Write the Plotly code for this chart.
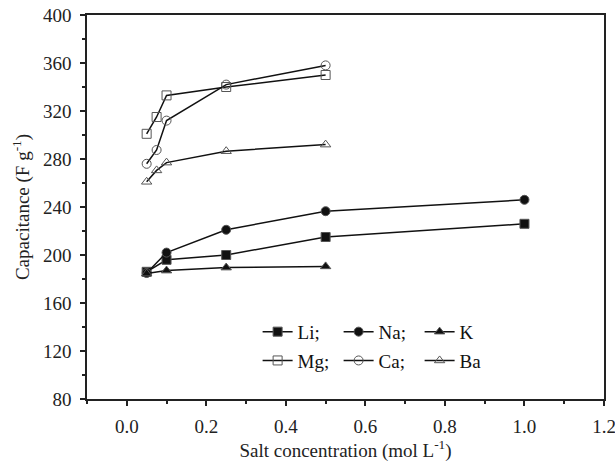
import plotly.graph_objects as go

x_li = [0.05, 0.1, 0.25, 0.5, 1.0]
li = [186, 196, 200, 215, 226]
x_na = [0.05, 0.1, 0.25, 0.5, 1.0]
na = [185, 202, 221, 236.5, 246]
x_k = [0.05, 0.1, 0.25, 0.5]
k = [184.5, 187, 189.5, 190.5]
x_alk = [0.05, 0.075, 0.1, 0.25, 0.5]
mg = [301, 315, 333, 340, 350]
ca = [276, 287.5, 312, 342, 358]
ba = [261, 270.5, 277, 286.5, 292]

series = [
    ("Li;", x_li, li, "square", "legend"),
    ("Na;", x_na, na, "circle", "legend"),
    ("K", x_k, k, "triangle-up", "legend"),
    ("Mg;", x_alk, mg, "square-open", "legend2"),
    ("Ca;", x_alk, ca, "circle-open", "legend2"),
    ("Ba", x_alk, ba, "triangle-up-open", "legend2"),
]

fig = go.Figure()
for name, xs, ys, sym, lg in series:
    fig.add_trace(go.Scatter(
        x=xs, y=ys, name=name, mode="lines+markers", legend=lg,
        line=dict(color="#111", width=1.5),
        marker=dict(symbol=sym, size=9, color="#111" if "open" not in sym else "#555",
                    line=dict(color="#555", width=1)),
    ))

font = "Liberation Serif"
leg_common = dict(orientation="h", x=0.33, xanchor="left", yanchor="middle",
                  bgcolor="rgba(0,0,0,0)", font=dict(size=19, family=font, color="#111"),
                  tracegroupgap=0, entrywidth=36, entrywidthmode="pixels")
fig.update_layout(
    width=615, height=464,
    margin=dict(l=87, r=11, t=15, b=65),
    plot_bgcolor="white", paper_bgcolor="white",
    font=dict(family=font, size=19, color="#222"),
    legend=dict(y=0.175, **leg_common),
    legend2=dict(y=0.100, **leg_common),
    showlegend=True,
)
fig.update_xaxes(
    range=[-0.1, 1.2], dtick=0.2, tick0=0, tickformat=".1f", automargin=False,
    ticklabeloverflow="allow",
    showline=True, linecolor="#222", linewidth=1.5, mirror=True,
    ticks="outside", ticklen=5, tickwidth=1.5, tickcolor="#222", ticklabelstandoff=4,
    minor=dict(dtick=0.1, tick0=0, ticks="outside", ticklen=3, tickwidth=1.5, tickcolor="#222"),
    showgrid=False, zeroline=False,
    title=dict(text="Salt concentration (mol L<sup>-1</sup>)", font=dict(size=19), standoff=4),
)
fig.update_yaxes(
    range=[80, 400], dtick=40, tick0=80, automargin=False,
    ticklabeloverflow="allow",
    showline=True, linecolor="#222", linewidth=1.5, mirror=True,
    ticks="outside", ticklen=5, tickwidth=1.5, tickcolor="#222", ticklabelstandoff=5,
    minor=dict(dtick=20, tick0=80, ticks="outside", ticklen=3, tickwidth=1.5, tickcolor="#222"),
    showgrid=False, zeroline=False,
    title=dict(text="Capacitance (F g<sup>-1</sup>)", font=dict(size=19), standoff=8),
)
fig.write_html("out.html", config={"displayModeBar": False},
               post_script="document.body.style.margin='0';")
